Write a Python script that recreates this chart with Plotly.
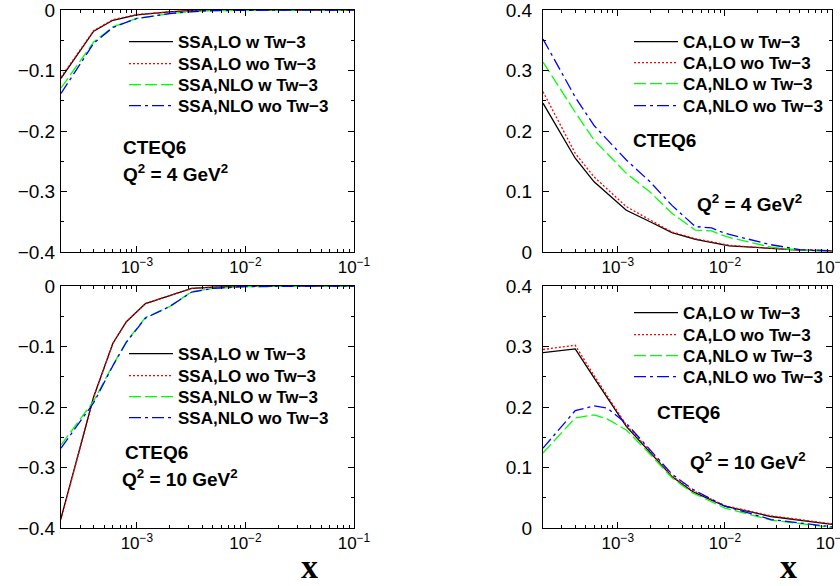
import plotly.graph_objects as go
import math

# ---------------- data ----------------
series_names_ssa = ["SSA,LO w Tw\u22123", "SSA,LO wo Tw\u22123", "SSA,NLO w Tw\u22123", "SSA,NLO wo Tw\u22123"]
series_names_ca = ["CA,LO w Tw\u22123", "CA,LO wo Tw\u22123", "CA,NLO w Tw\u22123", "CA,NLO wo Tw\u22123"]

# top-left: SSA, Q^2 = 4 GeV^2
x_tl = [2e-4, 4e-4, 6e-4, 1e-3, 2e-3, 3e-3, 5e-3, 1e-2, 3e-2, 1e-1]
ssa4_lo_w = [-0.113, -0.035, -0.017, -0.008, -0.003, -0.001, -0.0005, 0.0, 0.0, 0.0]
ssa4_lo_wo = [-0.111, -0.034, -0.016, -0.0075, -0.003, -0.001, -0.0004, 0.0, 0.0, 0.0]
ssa4_nlo_w = [-0.129, -0.053, -0.028, -0.014, -0.006, -0.003, -0.001, -0.0003, 0.0, 0.0]
ssa4_nlo_wo = [-0.138, -0.055, -0.029, -0.014, -0.006, -0.003, -0.001, -0.0003, 0.0, 0.0]

# bottom-left: SSA, Q^2 = 10 GeV^2
x_bl = [2e-4, 4e-4, 6e-4, 8e-4, 1.2e-3, 2e-3, 3.2e-3, 5e-3, 1e-2, 3e-2, 1e-1]
ssa10_lo_w = [-0.384, -0.183, -0.095, -0.059, -0.029, -0.016, -0.004, -0.002, -0.0005, 0.0, 0.0]
ssa10_lo_wo = [-0.386, -0.184, -0.095, -0.059, -0.029, -0.016, -0.004, -0.002, -0.0005, 0.0, 0.0]
ssa10_nlo_w = [-0.263, -0.190, -0.131, -0.092, -0.052, -0.034, -0.0094, -0.004, -0.001, 0.0, 0.0]
ssa10_nlo_wo = [-0.268, -0.193, -0.132, -0.093, -0.053, -0.034, -0.010, -0.004, -0.001, 0.0, 0.0]

# top-right: CA, Q^2 = 4 GeV^2
x_tr = [2e-4, 4e-4, 6e-4, 1.2e-3, 2e-3, 3.2e-3, 5.3e-3, 7.5e-3, 9e-3, 1.1e-2, 2.7e-2, 5e-2, 1e-1]
ca4_lo_w = [0.246, 0.155, 0.116, 0.069, 0.050, 0.032, 0.021, 0.016, 0.014, 0.010, 0.006, 0.003, 0.002]
ca4_lo_wo = [0.265, 0.163, 0.124, 0.075, 0.053, 0.033, 0.022, 0.017, 0.015, 0.011, 0.006, 0.003, 0.002]
ca4_nlo_w = [0.314, 0.231, 0.185, 0.130, 0.099, 0.064, 0.036, 0.035, 0.029, 0.024, 0.008, 0.003, 0.002]
ca4_nlo_wo = [0.352, 0.256, 0.209, 0.152, 0.116, 0.077, 0.042, 0.040, 0.034, 0.029, 0.012, 0.004, 0.002]

# bottom-right: CA, Q^2 = 10 GeV^2
x_br = [2e-4, 4e-4, 6e-4, 8e-4, 1.2e-3, 2e-3, 3.2e-3, 5e-3, 1e-2, 2.7e-2, 1e-1]
ca10_lo_w = [0.290, 0.296, 0.248, 0.215, 0.168, 0.125, 0.085, 0.060, 0.036, 0.019, 0.006]
ca10_lo_wo = [0.295, 0.302, 0.252, 0.218, 0.170, 0.127, 0.086, 0.062, 0.037, 0.020, 0.007]
ca10_nlo_w = [0.124, 0.182, 0.187, 0.180, 0.162, 0.122, 0.083, 0.058, 0.033, 0.013, 0.001]
ca10_nlo_wo = [0.132, 0.194, 0.202, 0.198, 0.173, 0.130, 0.089, 0.064, 0.036, 0.014, 0.002]

x_tick_vals = [1e-3, 1e-2, 1e-1]
x_tick_text = ["10<sup>\u22123</sup>", "10<sup>\u22122</sup>", "10<sup>\u22121</sup>"]

# ---------------- styling ----------------
colors = ["black", "#ff0000", "#00ff00", "#0000ff"]
dashes = ["solid", "2px,2px", "12px,4px", "12px,4px,3px,4px"]
widths = [1.3, 1.3, 1.3, 1.3]

FONT = "Liberation Sans, Arial, Helvetica, sans-serif"
W, H = 840, 586


def px(v):
    return v / W


def py(v):
    return 1 - v / H


fig = go.Figure()

# legend rows: (line-start x pixel, list of row-centre y pixels)
panels = [
    (x_tl, [ssa4_lo_w, ssa4_lo_wo, ssa4_nlo_w, ssa4_nlo_wo], series_names_ssa, "x", "y", 128, [42, 64, 85, 106]),
    (x_tr, [ca4_lo_w, ca4_lo_wo, ca4_nlo_w, ca4_nlo_wo], series_names_ca, "x2", "y2", 633, [42, 63, 84, 106]),
    (x_bl, [ssa10_lo_w, ssa10_lo_wo, ssa10_nlo_w, ssa10_nlo_wo], series_names_ssa, "x3", "y3", 128, [354, 376, 397, 418]),
    (x_br, [ca10_lo_w, ca10_lo_wo, ca10_nlo_w, ca10_nlo_wo], series_names_ca, "x4", "y4", 633, [313, 335, 356, 377]),
]

legend_layout = {}
lg_index = 1
for xs, ys_list, names, xa, ya, lx, rows in panels:
    for i, ys in enumerate(ys_list):
        lname = "legend" if lg_index == 1 else "legend%d" % lg_index
        fig.add_trace(go.Scatter(
            x=xs, y=ys, mode="lines", name=names[i],
            line=dict(color=colors[i], dash=dashes[i], width=widths[i]),
            xaxis=xa, yaxis=ya, legend=lname, showlegend=True,
        ))
        legend_layout[lname] = dict(
            x=px(lx - 4), y=py(rows[i]), xanchor="left", yanchor="middle",
            bgcolor="rgba(0,0,0,0)", borderwidth=0,
            font=dict(family=FONT, size=17, color="black", weight="bold"),
            itemwidth=44,
        )
        lg_index += 1

xl_dom = [px(61), px(354)]
xr_dom = [px(543), px(832)]
yt_dom = [py(252), py(10)]
yb_dom = [py(528), py(286)]

xrange_log = [math.log10(2e-4), -1]


def xaxis_cfg(dom, anchor):
    return dict(
        type="log", domain=dom, anchor=anchor, range=xrange_log,
        tickmode="array", tickvals=x_tick_vals, ticktext=x_tick_text,
        showline=True, linecolor="black", linewidth=1, mirror="ticks",
        ticks="inside", ticklen=6, tickcolor="black", tickwidth=1,
        minor=dict(ticks="inside", ticklen=3, tickcolor="black", dtick="D1"),
        showgrid=False, zeroline=False, automargin=False,
        ticklabeloverflow="allow",
        tickfont=dict(family=FONT, size=17, color="black"),
    )


def yaxis_cfg(dom, anchor, rng, standoff):
    return dict(
        domain=dom, anchor=anchor, range=rng, dtick=0.1, tick0=0,
        showline=True, linecolor="black", linewidth=1, mirror="ticks",
        ticks="inside", ticklen=6, tickcolor="black", tickwidth=1,
        minor=dict(ticks="inside", ticklen=3, tickcolor="black", dtick=0.05),
        showgrid=False, zeroline=False, automargin=False,
        ticklabelstandoff=standoff, ticklabeloverflow="allow",
        tickfont=dict(family=FONT, size=19, color="black"),
    )


ann_font = dict(family=FONT, size=19, color="black", weight="bold")
annotations = []


def add_text(txt, xpix, ypix):
    annotations.append(dict(text=txt, x=px(xpix), y=py(ypix), xref="paper", yref="paper",
                            xanchor="left", yanchor="middle", showarrow=False, font=ann_font))


add_text("CTEQ6", 121, 147)
add_text("Q<sup>2</sup> = 4 GeV<sup>2</sup>", 121, 173)
add_text("CTEQ6", 631, 140)
add_text("Q<sup>2</sup> = 4 GeV<sup>2</sup>", 695, 203)
add_text("CTEQ6", 123, 452)
add_text("Q<sup>2</sup> = 10 GeV<sup>2</sup>", 120, 478)
add_text("CTEQ6", 655, 412)
add_text("Q<sup>2</sup> = 10 GeV<sup>2</sup>", 688, 461)

for xc in (309, 788):
    annotations.append(dict(text="<b>x</b>", x=px(xc), y=py(566), xref="paper", yref="paper",
                            xanchor="center", yanchor="middle", showarrow=False,
                            font=dict(family="Liberation Serif, Times New Roman, serif", size=34, color="black")))

fig.update_layout(
    width=W, height=H,
    margin=dict(l=0, r=0, t=0, b=0, autoexpand=False),
    paper_bgcolor="white", plot_bgcolor="white",
    xaxis=xaxis_cfg(xl_dom, "y"),
    yaxis=yaxis_cfg(yt_dom, "x", [-0.4, 0], 1),
    xaxis2=xaxis_cfg(xr_dom, "y2"),
    yaxis2=yaxis_cfg(yt_dom, "x2", [0, 0.4], 6),
    xaxis3=xaxis_cfg(xl_dom, "y3"),
    yaxis3=yaxis_cfg(yb_dom, "x3", [-0.4, 0], 1),
    xaxis4=xaxis_cfg(xr_dom, "y4"),
    yaxis4=yaxis_cfg(yb_dom, "x4", [0, 0.4], 6),
    annotations=annotations,
    showlegend=True,
    **legend_layout,
)

fig.write_html(
    "out.html",
    config={"displayModeBar": False},
    post_script="document.body.style.margin='0px';document.body.style.overflow='hidden';",
)
